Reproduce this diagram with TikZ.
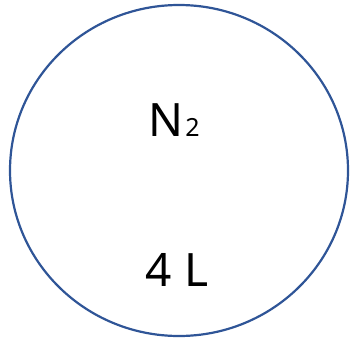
\documentclass[tikz,border=0pt]{standalone}
\usepackage{fontspec}
\setmainfont{Noto Sans}
\usepackage{tikz}
\usetikzlibrary{positioning}
\definecolor{vesselblue}{HTML}{2F5597}

\begin{document}
\begin{tikzpicture}[x=1pt, y=-1pt, every node/.style={font=\fontsize{46}{46}\selectfont, inner sep=0pt}]
  \useasboundingbox (0,0) rectangle (350,340);
  % gas vessel
  \draw[vesselblue, line width=2.2pt] (179,170.5) ellipse [x radius=169, y radius=165.5];
  \node[anchor=base] (gas) at (174,136) {N\hspace{2pt}{\fontsize{25}{25}\selectfont 2}};
  \node[anchor=base] (vol) at (177,286) {4 L};
\end{tikzpicture}
\end{document}
